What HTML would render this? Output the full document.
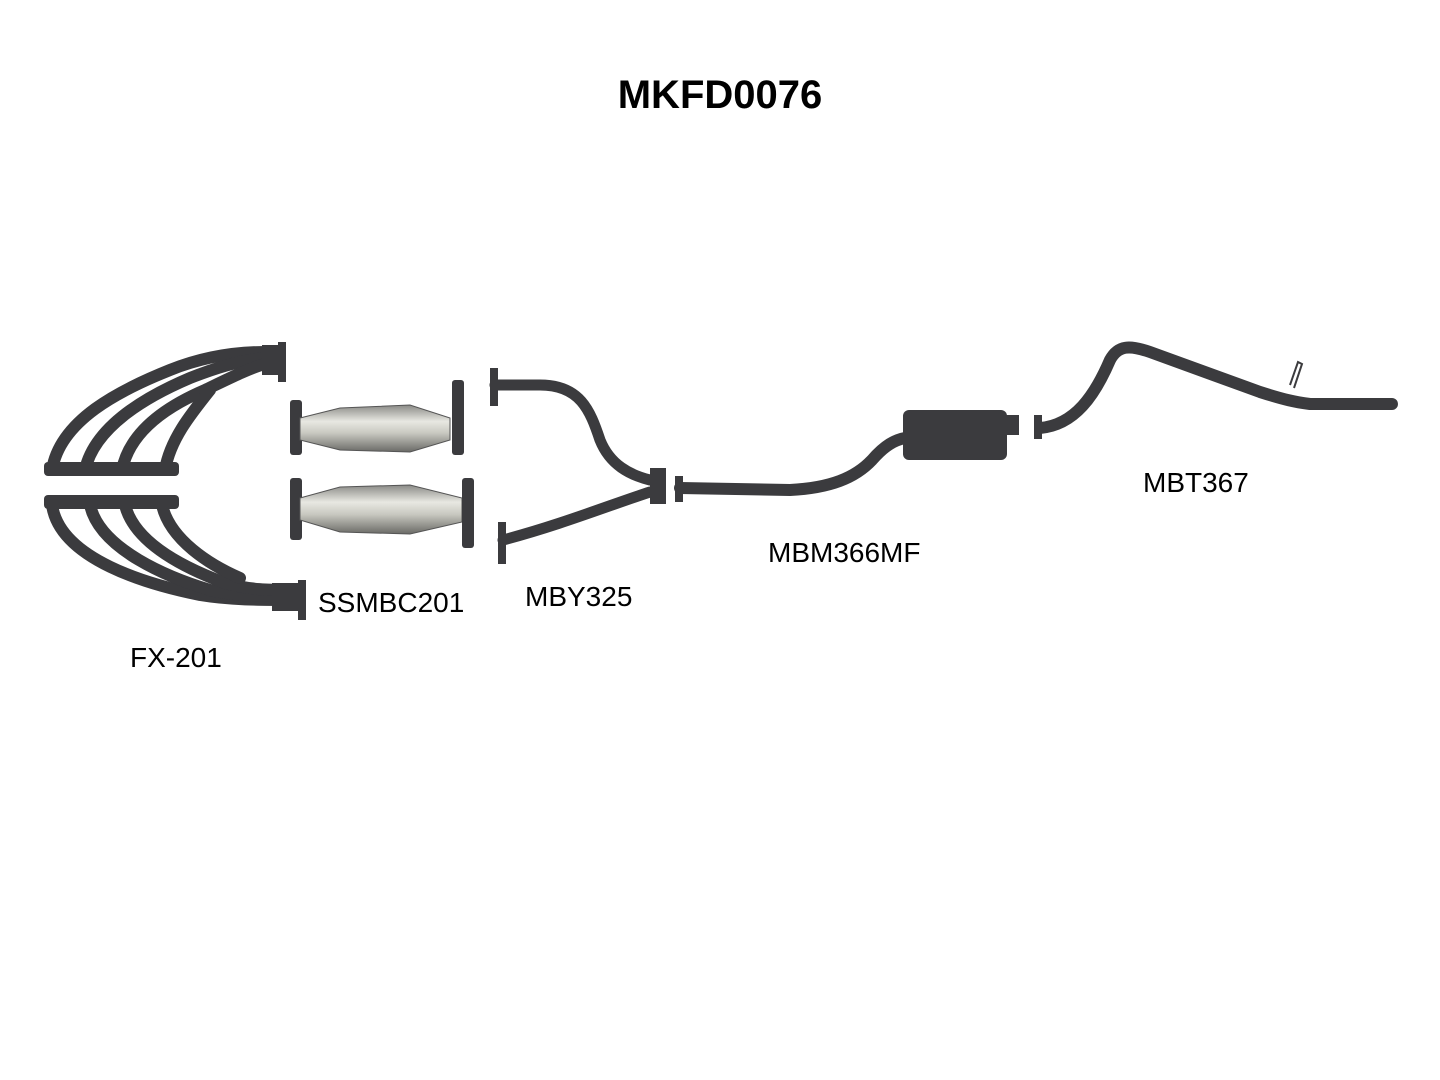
<!DOCTYPE html>
<html><head><meta charset="utf-8"><style>
html,body{margin:0;padding:0;background:#fff;}
svg{display:block}
text{font-family:"Liberation Sans",sans-serif;fill:#000}
</style></head><body>
<svg width="1440" height="1080" viewBox="0 0 1440 1080" xmlns="http://www.w3.org/2000/svg">
<defs>
<linearGradient id="cat" x1="0" y1="0" x2="0" y2="1">
<stop offset="0" stop-color="#8a8a86"/><stop offset="0.35" stop-color="#e8e8e2"/><stop offset="0.6" stop-color="#c8c8c0"/><stop offset="1" stop-color="#6a6a66"/>
</linearGradient>
</defs>
<text x="720" y="108" text-anchor="middle" font-size="40" font-weight="bold">MKFD0076</text>

<!-- FX-201 headers -->
<g fill="none" stroke="#3b3b3e" stroke-width="12" stroke-linecap="round">
<path d="M52 470 C60 420 120 390 170 370 C200 358 230 352 265 352"/>
<path d="M85 470 C95 425 150 395 190 378 C215 368 240 360 265 358"/>
<path d="M122 470 C130 430 170 405 205 390 C230 378 250 368 265 364"/>
<path d="M165 470 C170 440 190 415 210 390"/>
<path d="M52 505 C60 560 150 585 200 595 C230 600 260 600 290 600"/>
<path d="M90 505 C100 550 170 578 210 590 C240 597 265 596 290 595"/>
<path d="M125 505 C135 545 190 570 225 583 C250 590 270 590 290 590"/>
<path d="M162 505 C170 540 210 565 240 578"/>
</g>
<g fill="#3b3b3e">
<rect x="44" y="462" width="135" height="14" rx="4"/>
<rect x="44" y="495" width="135" height="14" rx="4"/>
<rect x="262" y="345" width="24" height="30"/>
<rect x="278" y="342" width="8" height="40"/>
<rect x="272" y="583" width="30" height="28"/>
<rect x="298" y="580" width="8" height="40"/>
</g>

<!-- SSMBC201 cats -->
<g>
<rect x="290" y="400" width="12" height="55" rx="3" fill="#3b3b3e"/>
<path d="M300 418 L340 408 L410 405 L450 418 L450 440 L410 452 L340 450 L300 440 Z" fill="url(#cat)" stroke="#555" stroke-width="1"/>
<rect x="452" y="380" width="12" height="75" rx="3" fill="#3b3b3e"/>
<rect x="290" y="478" width="12" height="62" rx="3" fill="#3b3b3e"/>
<path d="M300 498 L340 487 L410 485 L462 498 L462 522 L410 534 L340 532 L300 520 Z" fill="url(#cat)" stroke="#555" stroke-width="1"/>
<rect x="462" y="478" width="12" height="70" rx="3" fill="#3b3b3e"/>
</g>

<!-- MBY325 -->
<g fill="none" stroke="#3b3b3e" stroke-width="11" stroke-linecap="round">
<path d="M495 385 L540 385 C580 385 590 410 600 440 C610 465 630 475 650 480"/>
<path d="M503 540 C560 525 610 505 650 492"/>
</g>
<g fill="#3b3b3e">
<rect x="490" y="368" width="8" height="38"/>
<rect x="498" y="522" width="8" height="42"/>
<rect x="650" y="468" width="16" height="36"/>
</g>

<!-- MBM366MF -->
<g fill="none" stroke="#3b3b3e" stroke-width="12" stroke-linecap="round">
<path d="M680 488 L790 490 C830 488 855 478 872 460 C885 445 895 440 905 438"/>
</g>
<rect x="675" y="476" width="8" height="26" fill="#3b3b3e"/>
<rect x="903" y="410" width="104" height="50" rx="6" fill="#3b3b3e"/>
<rect x="1005" y="415" width="14" height="20" fill="#3b3b3e"/>

<!-- MBT367 -->
<g fill="none" stroke="#3b3b3e" stroke-width="12" stroke-linecap="round">
<path d="M1040 428 C1075 425 1095 395 1110 360 C1118 345 1130 345 1150 352 L1260 392 C1285 400 1295 402 1310 404 L1392 404"/>
</g>
<rect x="1034" y="415" width="8" height="24" fill="#3b3b3e"/>
<path d="M1290 385 L1298 362 L1302 364 L1294 388" fill="none" stroke="#3b3b3e" stroke-width="2"/>

<text x="130" y="667" font-size="28">FX-201</text>
<text x="318" y="612" font-size="28">SSMBC201</text>
<text x="525" y="606" font-size="28">MBY325</text>
<text x="768" y="562" font-size="28">MBM366MF</text>
<text x="1143" y="492" font-size="28">MBT367</text>
</svg>
</body></html>
